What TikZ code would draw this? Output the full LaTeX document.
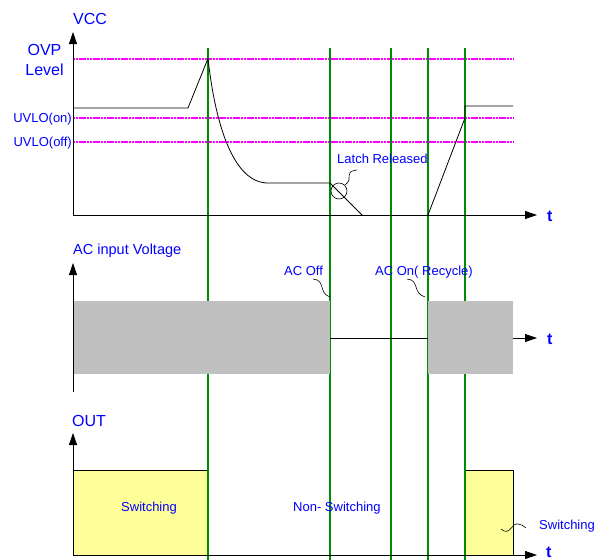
\documentclass[tikz,border=0pt]{standalone}
\usepackage{fontspec}
\setmainfont{Liberation Sans}
\usetikzlibrary{arrows.meta}
\definecolor{lblue}{RGB}{0,0,255}
\definecolor{mag}{RGB}{255,0,255}
\definecolor{grn}{RGB}{0,140,0}
\definecolor{gry}{RGB}{192,192,192}
\definecolor{ylw}{RGB}{255,255,153}
\begin{document}
\begin{tikzpicture}[x=1pt,y=-1pt,
  lbl/.style={text=lblue, inner sep=0pt, font=\fontsize{13}{15}\selectfont},
  biglbl/.style={text=lblue, inner sep=0pt, font=\fontsize{16}{18}\selectfont},
  tlbl/.style={text=lblue, inner sep=0pt, font=\fontsize{16}{18}\selectfont\bfseries},
  levelline/.style={draw=mag, line width=2pt, dash pattern=on 2.2pt off 0.6pt},
  eventline/.style={draw=grn, line width=1.6pt},
  axisline/.style={draw=black, line width=0.8pt, -{Triangle[length=12pt,width=8pt]}},
  sig/.style={draw=black, line width=0.8pt},
  callout/.style={draw=black, line width=0.6pt}]
\useasboundingbox (0,0) rectangle (603,560);

% ---------- yellow output areas (under green lines)
\fill[ylw] (73,470) rectangle (208,555);
\draw[sig] (73,470) -- (208,470);
\filldraw[fill=ylw, draw=black, line width=0.6pt] (465,470) rectangle (513,555);

% ---------- level lines
\draw[levelline] (73,58.5) -- (513,58.5);
\draw[levelline] (73,117.5) -- (513,117.5);
\draw[levelline] (73,141.5) -- (513,141.5);

% ---------- event lines
\foreach \x in {208,330,391,428,465} {
  \draw[eventline] (\x,48) -- (\x,560);
}

% ---------- AC input gray areas (over green lines)
\fill[gry] (73,301) rectangle (330,374);
\fill[gry] (428,301) rectangle (513,374);
\draw[sig] (330,338) -- (428,338);

% ---------- axes
\coordinate (o1) at (73,215);
\coordinate (y1) at (73,32);
\coordinate (x1) at (537,215);
\draw[axisline] (o1) -- (y1);
\draw[axisline] (o1) -- (x1);

\coordinate (o2) at (73,392);
\coordinate (y2) at (73,263);
\coordinate (s2) at (513,338);
\coordinate (x2) at (537,338);
\draw[axisline] (o2) -- (y2);
\draw[axisline] (s2) -- (x2);

\coordinate (o3) at (73,555);
\coordinate (y3) at (73,433);
\coordinate (x3) at (537,555);
\draw[axisline] (o3) -- (y3);
\draw[axisline] (o3) -- (x3);

% ---------- VCC waveform
\draw[sig, line join=round] (73,108) -- (188,108) -- (208,58.5)
  .. controls (216,130) and (235,183) .. (268,183) -- (330,183) -- (362,215);
\draw[sig, line join=round] (428,215) -- (465,118) -- (465,106) -- (513,106);

% ---------- latch released marker
\node[circle, draw=black, line width=0.6pt, minimum size=16pt, inner sep=0pt] (latch) at (339,191) {};
\draw[callout] (latch.north east) .. controls (355,178) and (342,172) .. (357,170);

% ---------- callouts
\draw[callout] (313,279) .. controls (326,280) and (318,293) .. (330,297);
\draw[callout] (407,279) .. controls (420,280) and (412,293) .. (425,297);
\draw[callout] (501,529) .. controls (510,537) and (512,522) .. (518,524)
  .. controls (522,525) .. (526,528);

% ---------- labels
\node[biglbl, anchor=base west] (vcc) at (73,24.5) {VCC};
\node[biglbl, anchor=base] (ovp) at (44.5,55) {OVP};
\node[biglbl, anchor=base] (lev) at (44.5,75) {Level};
\node[lbl, anchor=base east] (uon) at (72,122.5) {UVLO(on)};
\node[lbl, anchor=base east] (uoff) at (72,146.5) {UVLO(off)};
\node[lbl, anchor=base west] (rel) at (337,163) {Latch Released};
\node[tlbl, anchor=base west] (t1) at (547,221.5) {t};

\node[biglbl, anchor=base west, font=\fontsize{14.5}{17}\selectfont] (acin) at (73,254) {AC input Voltage};
\node[lbl, anchor=base west] (acoff) at (284,275) {AC Off};
\node[lbl, anchor=base west] (acon) at (375,275) {AC On( Recycle)};
\node[tlbl, anchor=base west] (t2) at (547,344) {t};

\node[biglbl, anchor=base west] (out) at (72,426.5) {OUT};
\node[lbl, anchor=base west] (sw1) at (121,511.5) {Switching};
\node[lbl, anchor=base west] (nsw) at (293,511.5) {Non- Switching};
\node[lbl, anchor=base west] (sw2) at (539,529.5) {Switching};
\node[tlbl, anchor=base west] (t3) at (546,557.5) {t};
\end{tikzpicture}
\end{document}
